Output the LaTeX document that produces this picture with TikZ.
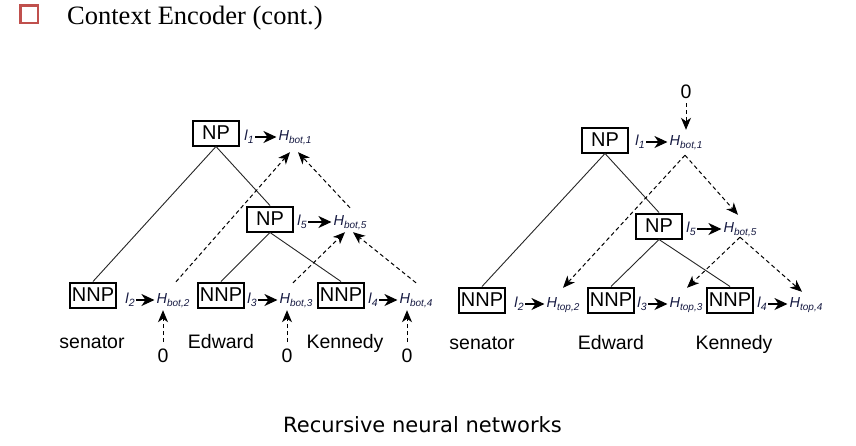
\documentclass[tikz,border=0pt]{standalone}
\usepackage{fontspec}
\setsansfont{Liberation Sans}
\newfontfamily\headfont{Liberation Serif}
\newfontfamily\capfont{DejaVu Sans}
\usepackage{xcolor}
\usetikzlibrary{arrows.meta, positioning, calc}
\definecolor{headred}{RGB}{192,80,77}
\definecolor{labnavy}{RGB}{22,26,66}

\newcommand{\hlab}[2]{\textit{H}\raisebox{-3pt}{\fontsize{10}{10}\selectfont\textit{#1,#2}}}
\newcommand{\llab}[1]{\textit{l}\raisebox{-3pt}{\fontsize{10.5}{10.5}\selectfont\textit{#1}}}

\begin{document}
\begin{tikzpicture}[x=1pt,y=-1pt,>={Stealth[length=12pt,width=10pt,inset=3.5pt]},
    cat/.style={draw,line width=2pt,font=\sffamily\fontsize{20}{20}\selectfont,
      inner sep=0pt,minimum width=46pt,minimum height=25pt},
    hvar/.style={font=\sffamily\fontsize{14.5}{14.5}\selectfont,text=labnavy,
      inner sep=0pt,text height=10pt,text depth=4pt,anchor=base},
    lvar/.style={hvar},
    word/.style={font=\sffamily\fontsize{19.5}{19.5}\selectfont,inner sep=0pt,anchor=base},
    branch/.style={line width=0.9pt,draw=black!85},
    flow/.style={->,line width=1pt,dash pattern=on 4pt off 3pt},
    feed/.style={-{Stealth[length=13pt,width=12pt,inset=4pt]},line width=1.1pt,
      shorten <=1.5pt,shorten >=2pt}]

    \fill[white] (0,0) rectangle (856,445);
    \useasboundingbox (0,0) rectangle (856,445);

    % heading and caption
    \node[draw=headred,line width=2.5pt,minimum size=17.5pt,inner sep=0pt] (bullet) at (29,14) {};
    \node[font=\headfont\fontsize{26.5}{26.5}\selectfont,anchor=base west,inner sep=0pt] (title) at (67,24) {Context Encoder (cont.)};
    \node[font=\capfont\fontsize{21}{21}\selectfont,anchor=base,inner sep=0pt] (caption) at (422.5,432) {Recursive neural networks};

    % left tree: bottom-up pass
    \node[cat] (np1) at (216,133) {NP};
    \node[lvar] (l1) at (249,140) {\llab{1}};
    \node[hvar] (hb1) at (295,140) {\hlab{bot}{1}};
    \node[cat] (np5) at (270,219) {NP};
    \node[lvar] (l5) at (302,225) {\llab{5}};
    \node[hvar] (hb5) at (350,225) {\hlab{bot}{5}};

    \node[cat] (nnp2) at (93,295) {NNP};
    \node[lvar] (l2) at (130,303) {\llab{2}};
    \node[hvar] (hb2) at (173,303) {\hlab{bot}{2}};
    \node[cat] (nnp3) at (221,295) {NNP};
    \node[lvar] (l3) at (252,303) {\llab{3}};
    \node[hvar] (hb3) at (296,303) {\hlab{bot}{3}};
    \node[cat] (nnp4) at (341,295) {NNP};
    \node[lvar] (l4) at (373,303) {\llab{4}};
    \node[hvar] (hb4) at (416,303) {\hlab{bot}{4}};

    \node[word] (w2) at (92,348) {senator};
    \node[word] (w3) at (221,348) {Edward};
    \node[word] (w4) at (345,348) {Kennedy};
    \node[word] (z2) at (163,362) {0};
    \node[word] (z3) at (287,362) {0};
    \node[word] (z4) at (407,362) {0};

    \draw[branch] (np1.south) -- (nnp2.north);
    \draw[branch] (np1.south) -- (np5.north);
    \draw[branch] (np5.south) -- (nnp3.north);
    \draw[branch] (np5.south) -- (nnp4.north);

    \draw[feed] (l1) -- (hb1);
    \draw[feed] (l5) -- (hb5);
    \draw[feed] (l2) -- (hb2);
    \draw[feed] (l3) -- (hb3);
    \draw[feed] (l4) -- (hb4);

    \draw[flow] ($(z2.north)+(0,-6)$) -- ($(z2.north |- hb2.south)+(0,3)$);
    \draw[flow] ($(z3.north)+(0,-6)$) -- ($(z3.north |- hb3.south)+(0,3)$);
    \draw[flow] ($(z4.north)+(0,-6)$) -- ($(z4.north |- hb4.south)+(0,3)$);
    \draw[flow] ($(hb2.north)+(3,-11)$) -- ($(hb1.south)+(-5,8)$);
    \draw[flow] ($(hb5.north)+(0,-7)$) -- ($(hb1.south)+(3,8)$);
    \draw[flow] ($(hb3.north)+(-3,-10)$) -- ($(hb5.south)+(-5,3)$);
    \draw[flow] ($(hb4.north)+(0,-10)$) -- ($(hb5.south)+(3,3)$);

    % right tree: top-down pass
    \node[word] (z1r) at (686,98) {0};
    \node[cat] (np1r) at (605,140) {NP};
    \node[lvar] (l1r) at (640,145) {\llab{1}};
    \node[hvar] (hr1) at (686,145) {\hlab{bot}{1}};
    \node[cat] (np5r) at (659,226) {NP};
    \node[lvar] (l5r) at (691,232) {\llab{5}};
    \node[hvar] (hr5) at (740,232) {\hlab{bot}{5}};

    \node[cat] (nnp2r) at (482,300) {NNP};
    \node[lvar] (l2r) at (519,307) {\llab{2}};
    \node[hvar] (ht2) at (563,307) {\hlab{top}{2}};
    \node[cat] (nnp3r) at (611,300) {NNP};
    \node[lvar] (l3r) at (642,307) {\llab{3}};
    \node[hvar] (ht3) at (686,307) {\hlab{top}{3}};
    \node[cat] (nnp4r) at (730,300) {NNP};
    \node[lvar] (l4r) at (762,307) {\llab{4}};
    \node[hvar] (ht4) at (806,307) {\hlab{top}{4}};

    \node[word] (w2r) at (482,349) {senator};
    \node[word] (w3r) at (611,349) {Edward};
    \node[word] (w4r) at (734,349) {Kennedy};

    \draw[branch] (np1r.south) -- (nnp2r.north);
    \draw[branch] (np1r.south) -- (np5r.north);
    \draw[branch] (np5r.south) -- (nnp3r.north);
    \draw[branch] (np5r.south) -- (nnp4r.north);

    \draw[feed] (l1r) -- (hr1);
    \draw[feed] (l5r) -- (hr5);
    \draw[feed] (l2r) -- (ht2);
    \draw[feed] (l3r) -- (ht3);
    \draw[feed] (l4r) -- (ht4);

    \draw[flow] ($(z1r.south)+(0,5)$) -- ($(hr1.north)+(0,-5)$);
    \draw[flow] ($(hr1.south)+(-1,6)$) -- ($(ht2.north)+(0,-9)$);
    \draw[flow] ($(hr1.south)+(-1,6)$) -- ($(hr5.north)+(-2,-7)$);
    \draw[flow] ($(hr5.south)+(0,1)$) -- ($(ht3.north)+(1,-9)$);
    \draw[flow] ($(hr5.south)+(0,1)$) -- ($(ht4.north)+(-4,-5)$);
\end{tikzpicture}
\end{document}
